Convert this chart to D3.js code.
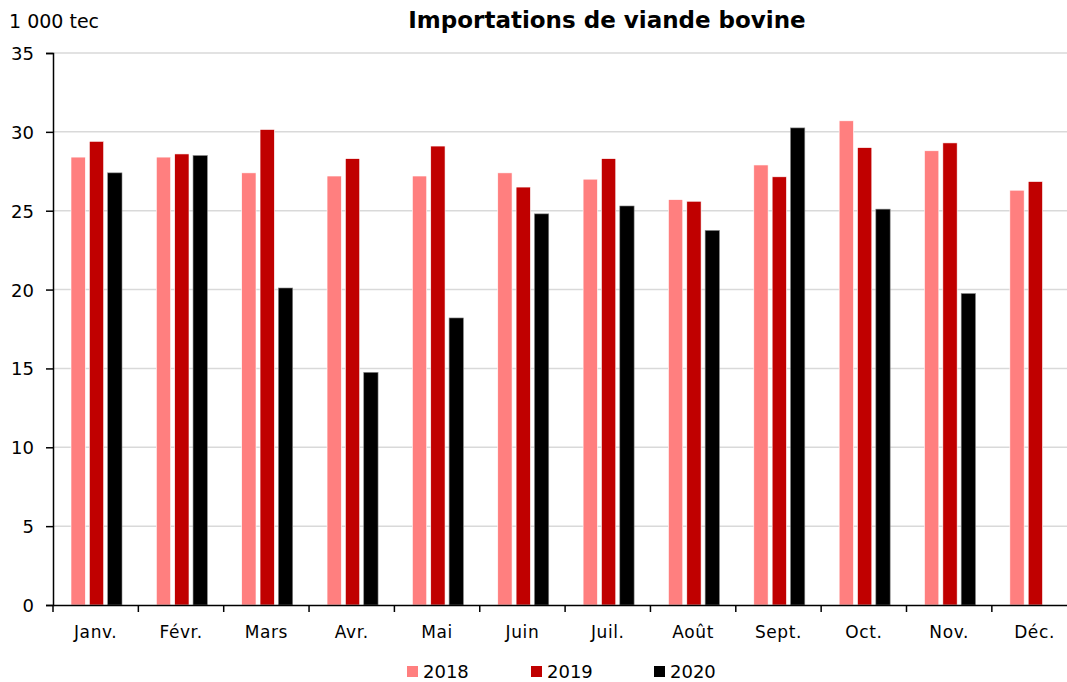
<!DOCTYPE html>
<html>
<head>
<meta charset="utf-8">
<script src="https://cdn.jsdelivr.net/npm/d3@7"></script>
<style>
  body { margin: 0; background: #fff; }
  text { font-family: "DejaVu Sans", sans-serif; fill: #000; }
</style>
</head>
<body>
<div id="chart"></div>
<script>
// data (1 000 tec)
const months = ["Janv.", "Févr.", "Mars", "Avr.", "Mai", "Juin", "Juil.", "Août", "Sept.", "Oct.", "Nov.", "Déc."];
const years = ["2018", "2019", "2020"];
const v2018 = [28.4, 28.4, 27.4, 27.2, 27.2, 27.4, 27.0, 25.7, 27.9, 30.7, 28.8, 26.3];
const v2019 = [29.4, 28.6, 30.15, 28.3, 29.1, 26.5, 28.3, 25.6, 27.15, 29.0, 29.3, 26.85];
const v2020 = [27.4, 28.5, 20.1, 14.75, 18.2, 24.8, 25.3, 23.75, 30.25, 25.1, 19.75, null];
const yTicks = [0, 5, 10, 15, 20, 25, 30, 35];
const colors = ["#ff7f7f", "#c00000", "#000000"];

const W = 1067, H = 682;
const marginLeft = 53, plotTop = 53, plotBottom = 605;

const svg = d3.select("#chart").append("svg")
    .attr("width", W).attr("height", H);

const x = d3.scaleBand().domain(months).range([marginLeft, marginLeft + 12 * 85.35]);
const xs = d3.scaleBand().domain(years).range([18, 69]).paddingInner(0.22);
const y = d3.scaleLinear().domain([0, 35]).range([plotBottom, plotTop]);

//gridlines
svg.append("g").selectAll("line")
    .data(yTicks.filter(d => d > 0))
  .enter().append("line")
    .attr("x1", marginLeft).attr("x2", W)
    .attr("y1", d => y(d)).attr("y2", d => y(d))
    .attr("stroke", "#d9d9d9").attr("stroke-width", 1.5);

//bars
const series = [v2018, v2019, v2020];
series.forEach(function(vals, i) {
    svg.append("g").selectAll("rect")
        .data(months.map((m, j) => ({ m: m, v: vals[j] })).filter(d => d.v != null))
      .enter().append("rect")
        .attr("x", d => x(d.m) + xs(years[i]))
        .attr("width", xs.bandwidth())
        .attr("y", d => y(d.v))
        .attr("height", d => y(0) - y(d.v))
        .attr("fill", colors[i])
        .attr("stroke", i == 2 ? "#888" : "#fff")
        .attr("stroke-width", 0.6);
});

//y axis
const yAxis = svg.append("g")
    .attr("transform", "translate(" + marginLeft + ",0)")
    .call(d3.axisLeft(y).tickValues(yTicks).tickSize(7).tickPadding(12));
yAxis.select(".domain").attr("stroke-width", 1.5);
yAxis.selectAll(".tick line").attr("stroke-width", 1.5);
yAxis.selectAll("text").style("font-size", "18px").attr("dy", "0.36em");

//x axis
const xAxis = svg.append("g")
    .attr("transform", "translate(0," + plotBottom + ")")
    .call(d3.axisBottom(x).tickSize(0).tickPadding(21));
xAxis.select(".domain").attr("stroke-width", 1.5);
xAxis.selectAll("text").style("font-size", "17px").style("letter-spacing", "0.6px");
xAxis.append("g").selectAll("line")
    .data(months)
  .enter().append("line")
    .attr("x1", d => x(d)).attr("x2", d => x(d))
    .attr("y1", 0).attr("y2", 7)
    .attr("stroke", "#000").attr("stroke-width", 1.5);

//title and unit
svg.append("text")
    .attr("x", 607).attr("y", 28)
    .attr("text-anchor", "middle")
    .style("font-size", "23px").style("font-weight", "bold")
    .text("Importations de viande bovine");
svg.append("text")
    .attr("x", 9).attr("y", 28)
    .style("font-size", "19px")
    .text("1 000 tec");

//legend
const legendX = [407, 531, 654];
const legend = svg.append("g").selectAll("g")
    .data(years)
  .enter().append("g")
    .attr("transform", (d, i) => "translate(" + legendX[i] + ",666)");
legend.append("rect")
    .attr("width", 11).attr("height", 11)
    .attr("fill", (d, i) => colors[i]);
legend.append("text")
    .attr("x", 16).attr("y", 12)
    .style("font-size", "18px")
    .text(d => d);
</script>
</body>
</html>
